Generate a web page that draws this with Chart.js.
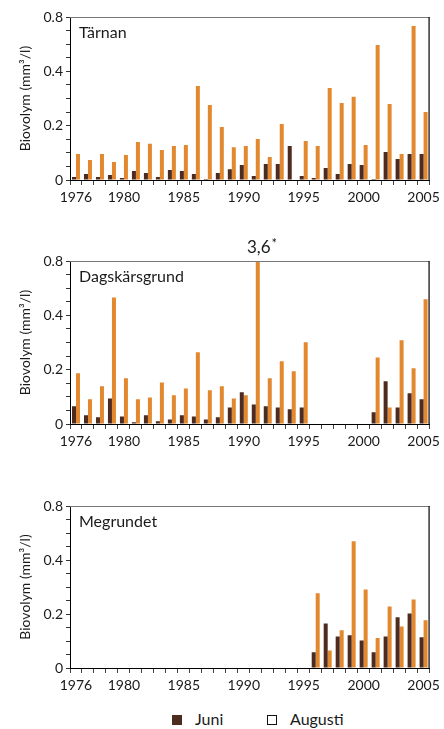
<!DOCTYPE html>
<html>
<head>
<meta charset="utf-8">
<script src="https://cdn.jsdelivr.net/npm/chart.js@4.4.1/dist/chart.umd.min.js"></script>
<style>
  html, body { margin: 0; padding: 0; background: #fff; }
  body { width: 444px; height: 729px; position: relative; overflow: hidden; font-family: Lato, "Open Sans", sans-serif; }
  .panel { position: absolute; left: 0; width: 444px; }
  .legend { position: absolute; top: 710px; left: 0; width: 444px; height: 20px; font-size: 16px; color: #1a1a1a; }
  .legend span { position: absolute; }
  .sq { width: 10px; height: 10px; box-sizing: border-box; }
</style>
</head>
<body>
<div class="panel" style="top:0px;height:210px"><canvas id="c1"></canvas></div>
<div class="panel" style="top:230px;height:224px"><canvas id="c2"></canvas></div>
<div class="panel" style="top:490px;height:208px"><canvas id="c3"></canvas></div>
<div class="legend">
  <span class="sq" style="left:172px;top:5px;background:#4d2b1f"></span>
  <span style="left:195px;top:-1px">Juni</span>
  <span class="sq" style="left:267px;top:5px;background:#fff;border:1px solid #111"></span>
  <span style="left:290px;top:-1px">Augusti</span>
</div>
<script>
// ---- data ----
const years = [1976,1977,1978,1979,1980,1981,1982,1983,1984,1985,1986,1987,1988,1989,1990,
               1991,1992,1993,1994,1995,1996,1997,1998,1999,2000,2001,2002,2003,2004,2005];
const xTickLabels = ['1976','1980','1985','1990','1995','2000','2005'];
const yTickValues = [0, 0.2, 0.4, 0.6];
const yTickLabels = ['0', '0.2', '0.4', '0.8'];
const seriesNames = ['Juni', 'Augusti'];
const stationNames = ['Tärnan', 'Dagskärsgrund', 'Megrundet'];

const tarnanJuni = [0.011,0.022,0.011,0.018,0.007,0.033,0.026,0.011,0.037,0.033,0.022,0.004,0.026,0.040,0.055,
                    0.015,0.059,0.059,0.125,0.015,0.007,0.044,0.022,0.059,0.055,0.004,0.103,0.077,0.096,0.096];
const tarnanAugusti = [0.096,0.074,0.096,0.066,0.092,0.140,0.133,0.110,0.125,0.129,0.346,0.276,0.195,0.121,0.125,
                       0.151,0.085,0.206,null,0.144,0.125,0.339,0.283,0.306,0.129,0.497,0.280,0.096,0.567,0.250];

const dagsJuni = [0.065,0.032,0.025,0.094,0.028,0.006,0.032,0.010,0.017,0.032,0.028,0.017,0.025,0.061,0.117,
                  0.072,0.065,0.061,0.054,0.061,null,null,null,null,null,0.043,0.157,0.061,0.113,0.091];
const dagsAugusti = [0.187,0.091,0.139,0.466,0.168,0.091,0.098,0.153,0.106,0.131,0.264,0.124,0.139,0.094,0.106,
                     3.6,0.168,0.231,0.194,0.301,null,null,null,null,null,0.245,0.061,0.308,0.205,0.459];

const megJuni = [null,null,null,null,null,null,null,null,null,null,null,null,null,null,null,
                 null,null,null,null,null,0.058,0.165,0.117,0.121,0.102,0.058,0.117,0.188,0.202,0.114];
const megAugusti = [null,null,null,null,null,null,null,null,null,null,null,null,null,null,null,
                    null,null,null,null,null,0.277,0.065,0.140,0.469,0.291,0.111,0.228,0.154,0.254,0.177];

const offScaleNote = '3,6';

// ---- styles ----
const FONT = 'Lato, "Open Sans", sans-serif';
const COL_JUNI = '#4d2b1f';
const COL_AUG = '#e2882f';
const TEXT = '#1a1a1a';

function frame(name, noteIndex) {
  return {
    id: 'frame_' + name,
    afterDraw(chart) {
      const {ctx, chartArea: a} = chart;
      ctx.save();
      ctx.lineWidth = 1.2;
      ctx.strokeStyle = '#777';
      ctx.beginPath(); ctx.moveTo(a.left, a.top + 0.5); ctx.lineTo(a.right, a.top + 0.5); ctx.stroke();
      ctx.strokeStyle = '#000';
      ctx.beginPath(); ctx.moveTo(a.right - 0.5, a.top); ctx.lineTo(a.right - 0.5, a.bottom); ctx.stroke();
      ctx.fillStyle = TEXT;
      ctx.font = '16px ' + FONT;
      ctx.textBaseline = 'alphabetic';
      ctx.textAlign = 'left';
      ctx.fillText(name, a.left + 9, a.top + 21);
      if (noteIndex !== undefined) {
        const bar = chart.getDatasetMeta(1).data[noteIndex];
        const x = bar.x + 1;
        ctx.font = '17px ' + FONT;
        ctx.textAlign = 'center';
        ctx.fillText(offScaleNote, x, a.top - 8);
        const w = ctx.measureText(offScaleNote).width;
        ctx.font = '13px ' + FONT;
        ctx.textAlign = 'left';
        ctx.fillText('*', x + w / 2 + 1, a.top - 13);
      }
      ctx.restore();
    }
  };
}

function makeChart(id, name, juni, aug, padTop, noteIndex) {
  return new Chart(document.getElementById(id), {
    type: 'bar',
    data: {
      labels: years.map(String),
      datasets: [
        { label: seriesNames[0], data: juni, backgroundColor: COL_JUNI, borderWidth: 0,
          categoryPercentage: 0.667, barPercentage: 1.0 },
        { label: seriesNames[1], data: aug, backgroundColor: COL_AUG, borderWidth: 0,
          categoryPercentage: 0.667, barPercentage: 1.0 }
      ]
    },
    options: {
      responsive: true,
      maintainAspectRatio: false,
      animation: false,
      layout: { padding: { top: padTop, right: 11, left: 0, bottom: 0 } },
      plugins: { legend: { display: false }, tooltip: { enabled: false } },
      scales: {
        x: {
          offset: true,
          grid: { display: true, offset: true, drawOnChartArea: false, drawTicks: true, tickLength: 5, color: '#444' },
          border: { display: true, color: '#000', width: 1 },
          ticks: {
            autoSkip: false, maxRotation: 0, minRotation: 0, padding: 4,
            color: TEXT, font: { family: FONT, size: 14 },
            callback: function (v) { const l = this.getLabelForValue(v); return xTickLabels.includes(l) ? l : ''; }
          },
          afterFit: s => { s.height = 30; }
        },
        y: {
          min: 0, max: 0.6,
          grid: { display: true, drawOnChartArea: false, drawTicks: true, tickLength: 4, color: '#333' },
          border: { display: true, color: '#000', width: 1 },
          ticks: {
            stepSize: 0.05, autoSkip: false, maxTicksLimit: 100, padding: 3,
            color: TEXT, font: { family: FONT, size: 14 },
            callback: v => {
              const i = yTickValues.findIndex(t => Math.abs(t - v) < 1e-6);
              return i >= 0 ? yTickLabels[i] : '';
            }
          },
          title: { display: true, text: 'Biovolym (mm³/l)', color: TEXT,
                   font: { family: FONT, size: 14 }, padding: { top: 17, bottom: 0 } },
          afterFit: s => { s.width = 70; }
        }
      }
    },
    plugins: [frame(name, noteIndex)]
  });
}

makeChart('c1', stationNames[0], tarnanJuni, tarnanAugusti, 17);
makeChart('c2', stationNames[1], dagsJuni, dagsAugusti, 31, years.indexOf(1991));
makeChart('c3', stationNames[2], megJuni, megAugusti, 16);
</script>
</body>
</html>
